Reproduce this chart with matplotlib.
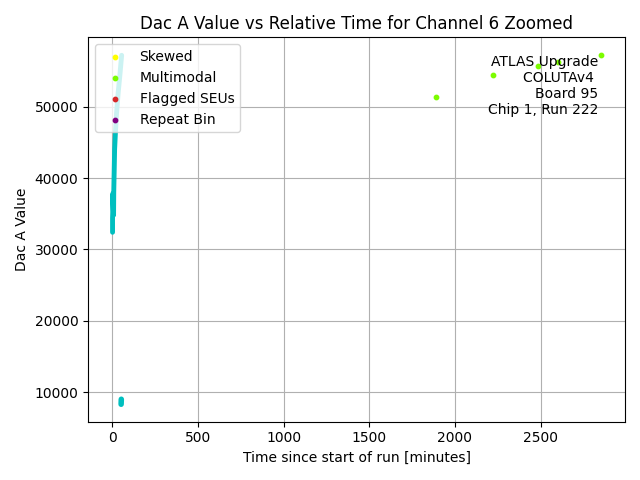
import matplotlib
matplotlib.use("Agg")
import matplotlib.pyplot as plt

# main trace of the channel (early part of the run)
trace_time = [2, 2, 3, 3, 8, 9, 12, 14, 18, 25, 35, 45, 55]
trace_dac = [32400, 34400, 35200, 37800, 34800, 38000, 41500, 44000, 46000, 49000, 52000, 54500, 57200]

# small low cluster
low_time = [52, 53]
low_dac = [8300, 9000]

# flagged points
skewed_time, skewed_dac = [], []
multimodal_time = [1888, 2220, 2483, 2599, 2850]
multimodal_dac = [51400, 54480, 55730, 56290, 57270]
seu_time, seu_dac = [], []
repeat_time, repeat_dac = [], []

fig, ax = plt.subplots(figsize=(6.4, 4.8), dpi=100)

ax.plot(trace_time, trace_dac, color='c', lw=3.5, solid_capstyle='round')
ax.plot(low_time, low_dac, color='c', lw=4, solid_capstyle='round')

ax.scatter(skewed_time, skewed_dac, color='yellow', s=10, label='Skewed')
ax.scatter(multimodal_time, multimodal_dac, color='lawngreen', s=10, label='Multimodal')
ax.scatter(seu_time, seu_dac, color='tab:red', s=10, label='Flagged SEUs')
ax.scatter(repeat_time, repeat_dac, color='purple', s=10, label='Repeat Bin')

ax.text(0.95, 0.955, "ATLAS Upgrade\nCOLUTAv4 \nBoard 95\nChip 1, Run 222",
        transform=ax.transAxes, ha='right', va='top', multialignment='right')

ax.set_title("Dac A Value vs Relative Time for Channel 6 Zoomed")
ax.set_xlabel("Time since start of run [minutes]")
ax.set_ylabel("Dac A Value")
ax.legend(loc='upper left')
ax.grid(True)
plt.tight_layout()
plt.savefig("out.png")
